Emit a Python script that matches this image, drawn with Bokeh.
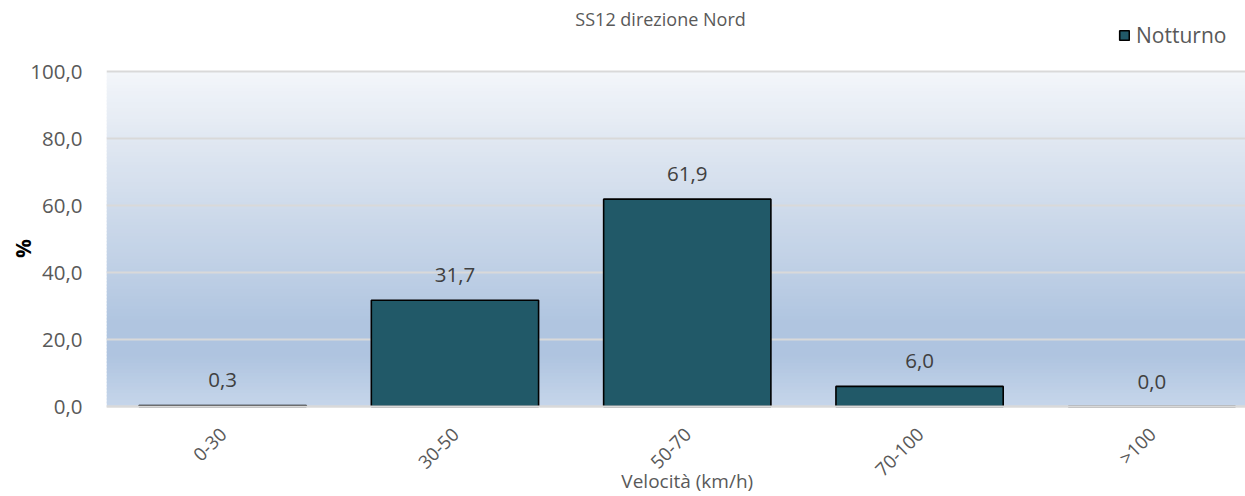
import numpy as np
from bokeh.plotting import figure
from bokeh.models import (ColumnDataSource, Range1d, FixedTicker, LabelSet, Label,
                          BoxAnnotation, Legend, LegendItem)
from bokeh.core.properties import value
from bokeh.embed import file_html
from bokeh.resources import INLINE

# ---- data ----
categories = ["0-30", "30-50", "50-70", "70-100", ">100"]
notturno = [0.3, 31.7, 61.9, 6.0, 0.0]
y_ticks = [0, 20, 40, 60, 80, 100]
title_text = "SS12 direzione Nord"
x_title = "Velocità (km/h)"
y_title = "%"
series_name = "Notturno"

FONT = "Open Sans"
GREY = "#595959"

def fmt(v):
    return f"{v:.1f}".replace(".", ",")

xs = [i + 0.5 for i in range(len(categories))]
src = ColumnDataSource(dict(x=xs, top=notturno, cat=categories,
                            lab=[fmt(v) for v in notturno]))

PX = 3.35      # pixels per % unit in the plot area
ZERO_Y = 406   # canvas row of the 0 line
H = 496
p = figure(width=1245, height=H, output_backend="svg", toolbar_location=None,
           x_range=Range1d(0, 4.903),
           y_range=Range1d(-(H - ZERO_Y) / PX, ZERO_Y / PX),
           min_border_left=106, min_border_right=0, min_border_top=0,
           min_border_bottom=0)
p.outline_line_color = None
p.background_fill_color = "white"
p.border_fill_color = "white"

# gradient plot-area background (overlapping bands 0..100)
stops_v = [0, 15, 25, 40, 60, 80, 100]
stops_c = [(198, 214, 234), (175, 196, 224), (176, 197, 224), (190, 207, 229),
           (207, 219, 235), (225, 232, 242), (243, 246, 250)]
n = 100
edges = np.linspace(0, 100, n + 1)
for a, b in zip(edges[:-1], edges[1:]):
    m = (a + b) / 2
    c = [int(round(np.interp(m, stops_v, [s[k] for s in stops_c]))) for k in range(3)]
    p.add_layout(BoxAnnotation(bottom=a, top=min(b + 0.5, 100), fill_color="#%02x%02x%02x" % tuple(c),
                               fill_alpha=1, line_color=None, level="image"))

bars = p.vbar(x="x", top="top", width=0.72, source=src, fill_color="#215968",
              line_color="black", line_width=1.6)

p.add_layout(LabelSet(x="x", y="top", text="lab", source=src, y_offset=25,
                      text_align="center", text_baseline="middle",
                      text_font=value(FONT), text_font_size=value("20.5px"),
                      text_color="#404040"))

# axes
p.xaxis.fixed_location = 0
p.xaxis.ticker = FixedTicker(ticks=xs)
p.xaxis.major_label_overrides = {x: c for x, c in zip(xs, categories)}
p.xaxis.major_label_orientation = np.pi / 4
p.xaxis.major_label_text_font = FONT
p.xaxis.major_label_text_font_size = "18.5px"
p.xaxis.major_label_text_color = GREY
p.xaxis.major_label_standoff = 18
p.xaxis.major_tick_line_color = None
p.xaxis.minor_tick_line_color = None
p.xaxis.axis_line_color = "#d9d9d9"
p.xaxis.axis_line_width = 2

p.yaxis.ticker = FixedTicker(ticks=y_ticks)
p.yaxis.major_label_overrides = {t: fmt(t) for t in y_ticks}
p.yaxis.major_label_text_font = FONT
p.yaxis.major_label_text_font_size = "20.5px"
p.yaxis.major_label_text_color = GREY
p.yaxis.major_label_standoff = 18
p.yaxis.major_tick_line_color = None
p.yaxis.minor_tick_line_color = None
p.yaxis.axis_line_color = None
p.yaxis.axis_label = y_title
p.yaxis.axis_label_text_font = FONT
p.yaxis.axis_label_text_font_size = "21px"
p.yaxis.axis_label_text_font_style = "bold"
p.yaxis.axis_label_text_color = "black"
p.yaxis.axis_label_standoff = -10

p.xgrid.grid_line_color = None
p.ygrid.grid_line_color = "#d9d9d9"
p.ygrid.grid_line_width = 2

# chart title (white top area of the frame)
p.add_layout(Label(x=2.385, y=(ZERO_Y - 18) / PX, text=title_text, text_align="center",
                   text_baseline="middle", text_font=FONT, text_font_size="18px",
                   text_color=GREY))

# x axis title (white bottom area of the frame), centred on the categories
p.add_layout(Label(x=len(categories) / 2, y=-(480 - ZERO_Y) / PX, text=x_title,
                   text_align="center", text_baseline="middle", text_font=FONT,
                   text_font_size="19px", text_color=GREY))

legend = Legend(items=[LegendItem(label=series_name, renderers=[bars])],
                location=(1012, H - 49), orientation="horizontal",
                glyph_width=12, glyph_height=12, label_standoff=6,
                padding=0, margin=0, spacing=0, border_line_color=None,
                background_fill_alpha=0, label_text_font=FONT,
                label_text_font_size="21px", label_text_color=GREY)
p.add_layout(legend)

open("out.html", "w").write(file_html(p, INLINE))
